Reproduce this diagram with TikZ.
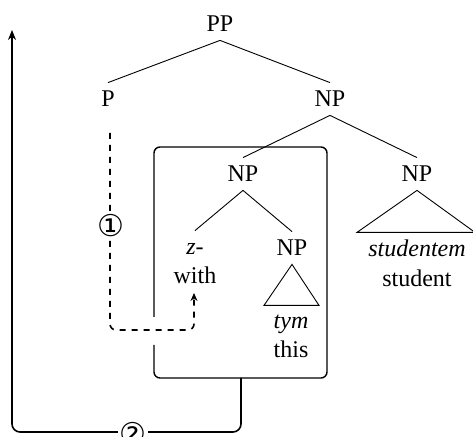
\documentclass[tikz,border=0pt]{standalone}
\usepackage{fontspec}
\setmainfont{Liberation Serif}
\newfontfamily\symfont{DejaVu Sans}
\usetikzlibrary{arrows.meta}
\begin{document}
\begin{tikzpicture}[x=0.5pt,y=-0.5pt,font=\fontsize{12pt}{14pt}\selectfont,
  cat/.style={anchor=base,inner xsep=1pt,inner ysep=4pt,text height=8pt,text depth=0pt},
  word/.style={anchor=base,inner sep=0pt},
  branch/.style={line width=0.45pt},
  boxline/.style={line width=0.7pt,rounded corners=3pt},
  movepath/.style={line width=0.8pt,dashed,rounded corners=3pt,-{Stealth[length=4pt,width=3.5pt]}},
  solidpath/.style={line width=0.8pt,rounded corners=4pt,-{Stealth[length=5pt,width=4pt]}},
  steplabel/.style={fill=white,inner sep=1pt,font=\symfont\fontsize{15pt}{16pt}\selectfont}]
\useasboundingbox (0,0) rectangle (473,437);
% tree labels
\node[cat] (PP) at (220,32) {PP};
\node[cat] (P) at (108,107) {P};
\node[cat] (NP1) at (330,107) {NP};
\node[cat] (NP2) at (243,182) {NP};
\node[cat] (NP3) at (417,182) {NP};
\node[cat] (Z) at (195,255) {\textit{z}-};
\node[cat] (NP4) at (292,256) {NP};
% words
\node[word] (with) at (195,284) {with};
\node[word] (studentem) at (417,257) {\textit{studentem}};
\node[word] (student) at (417,287) {student};
\node[word] (tym) at (291,329) {\textit{tym}};
\node[word] (this) at (291,358) {this};
% branches
\draw[branch] (PP.south) -- (P.north);
\draw[branch] (PP.south) -- (NP1.north);
\draw[branch] (NP1.south) -- (NP2.north);
\draw[branch] (NP1.south) -- (NP3.north);
\draw[branch] (NP2.south) -- (Z.north);
\draw[branch] (NP2.south) -- (NP4.north);
% triangles
\draw[branch] (NP3.south) -- ++(-60,42) -- ++(118,0) -- cycle;
\draw[branch] (NP4.south) -- ++(-28,41) -- ++(55,0) -- cycle;
% box with gap on the left side
\draw[boxline] (154,317) -- (154,147) -- (327,147) -- (327,378) -- (154,378) -- (154,345);
% movement 1 (dashed)
\coordinate (d0) at (110,133);
\coordinate (d1) at (110,330);
\coordinate (wend) at (194,293);
\draw[movepath] (d0) -- (d1) -| (wend);
\node[steplabel] (s1) at (111,226) {①};
% movement 2 (solid)
\coordinate (b0) at (241,378);
\coordinate (b1) at (241,432);
\coordinate (b2) at (12,432);
\coordinate (top) at (12,30);
\draw[solidpath] (b0) -- (b1) -- (b2) -- (top);
\node[steplabel] (s2) at (133,434) {②};
\end{tikzpicture}
\end{document}
